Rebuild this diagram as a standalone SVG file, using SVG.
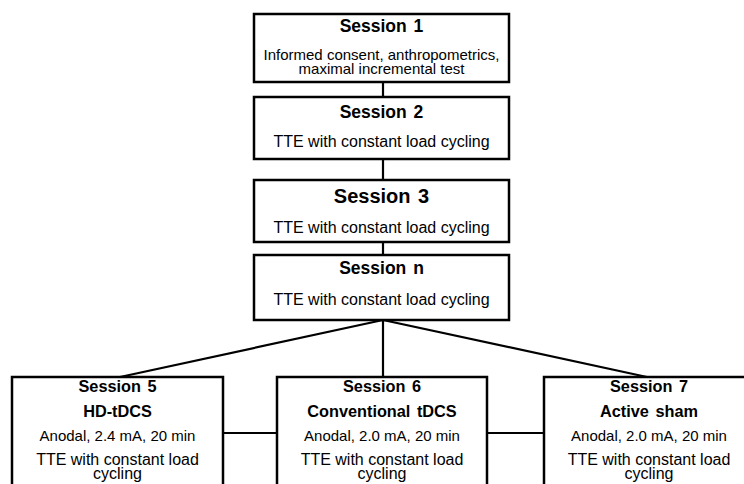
<svg xmlns="http://www.w3.org/2000/svg" width="744" height="484" viewBox="0 0 744 484">
<style>
.box{fill:#fff;stroke:#000;stroke-width:2.5}
.ln{stroke:#000;stroke-width:2.2;fill:none}
text{font-family:"Liberation Sans",Arial,sans-serif;fill:#000;text-anchor:middle}
.t{font-weight:bold;font-size:17.5px;word-spacing:2px}
.t3{font-weight:bold;font-size:20px;word-spacing:2px}
.tb{font-weight:bold;font-size:16.3px;word-spacing:2px}
.b{font-size:16px}
.s{font-size:15px}
</style>
<rect width="744" height="484" fill="#fff"/>
<g id="connectors">
<line class="ln" x1="383" y1="82" x2="383" y2="97"/>
<line class="ln" x1="383" y1="159" x2="383" y2="180"/>
<line class="ln" x1="383" y1="242" x2="383" y2="255"/>
<line class="ln" x1="383" y1="320" x2="383" y2="377"/>
<line class="ln" x1="383" y1="320" x2="120" y2="377"/>
<line class="ln" x1="383" y1="320" x2="647" y2="377"/>
<line class="ln" x1="223" y1="433" x2="277" y2="433"/>
<line class="ln" x1="487" y1="433" x2="544" y2="433"/>
</g>
<g id="session1">
<rect class="box" x="254" y="14" width="255" height="68"/>
<text class="t" x="381.5" y="32">Session 1</text>
<text class="s" x="381.5" y="60">Informed consent, anthropometrics,</text>
<text class="s" x="381.5" y="74">maximal incremental test</text>
</g>
<g id="session2">
<rect class="box" x="254" y="97" width="255" height="62"/>
<text class="t" x="381.5" y="118">Session 2</text>
<text class="b" x="381.5" y="147">TTE with constant load cycling</text>
</g>
<g id="session3">
<rect class="box" x="254" y="180" width="255" height="62"/>
<text class="t3" x="381.5" y="203">Session 3</text>
<text class="b" x="381.5" y="233">TTE with constant load cycling</text>
</g>
<g id="sessionn">
<rect class="box" x="254" y="255" width="255" height="65"/>
<text class="t" x="381.5" y="274">Session n</text>
<text class="b" x="381.5" y="305">TTE with constant load cycling</text>
</g>
<g id="session5">
<rect class="box" x="12" y="377" width="211" height="120"/>
<text class="tb" x="117.5" y="392">Session 5</text>
<text class="tb" x="117.5" y="417">HD-tDCS</text>
<text class="s" x="117.5" y="441">Anodal, 2.4 mA, 20 min</text>
<text class="b" x="117.5" y="465">TTE with constant load</text>
<text class="b" x="117.5" y="479">cycling</text>
</g>
<g id="session6">
<rect class="box" x="277" y="377" width="210" height="120"/>
<text class="tb" x="382" y="392">Session 6</text>
<text class="tb" x="382" y="417">Conventional tDCS</text>
<text class="s" x="382" y="441">Anodal, 2.0 mA, 20 min</text>
<text class="b" x="382" y="465">TTE with constant load</text>
<text class="b" x="382" y="479">cycling</text>
</g>
<g id="session7">
<rect class="box" x="544" y="377" width="211" height="120"/>
<text class="tb" x="649" y="392">Session 7</text>
<text class="tb" x="649" y="417">Active sham</text>
<text class="s" x="649" y="441">Anodal, 2.0 mA, 20 min</text>
<text class="b" x="649" y="465">TTE with constant load</text>
<text class="b" x="649" y="479">cycling</text>
</g>
</svg>
